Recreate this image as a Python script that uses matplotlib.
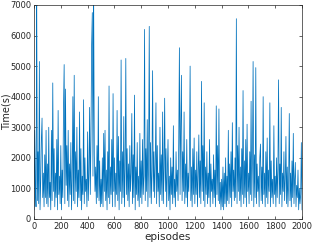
import numpy as np
import matplotlib.pyplot as plt

time_s = [
    300, 2900, 1100, 400, 7400, 600, 2200, 500, 5150, 300, 1200, 2600, 3300, 700, 1500, 400, 2100, 700, 2900, 500,
    1800, 400, 3000, 700, 1200, 300, 2900, 600, 4450, 900, 2300, 400, 1500, 700, 2600, 300, 3550, 800, 1400, 500,
    2400, 300, 1600, 700, 3600, 5050, 500, 4250, 1100, 2400, 600, 2900, 400, 1800, 800, 2500, 300, 1300, 4000, 600,
    4700, 500, 2200, 900, 3000, 400, 1600, 700, 3500, 600, 2300, 300, 1400, 800, 3900, 500, 2000, 900, 1300, 400,
    2850, 600, 1500, 3650, 800, 2600, 5700, 6750, 1400, 7300, 2100, 900, 1700, 500, 2400, 700, 4000, 600, 1900, 400,
    1300, 500, 2000, 400, 2800, 900, 2900, 600, 1600, 300, 2200, 700, 4350, 500, 1700, 800, 2600, 400, 4100, 900,
    2000, 400, 1500, 800, 3550, 600, 2700, 300, 1900, 900, 5200, 500, 2200, 700, 3350, 400, 1600, 5250, 800, 2300,
    600, 1800, 400, 2400, 900, 1500, 3450, 500, 2100, 700, 4050, 300, 1700, 800, 2500, 600, 1400, 400, 2800, 700,
    1900, 500, 2600, 800, 1400, 6200, 600, 2300, 900, 3250, 400, 1800, 6300, 700, 2500, 500, 1600, 4850, 900, 2200,
    700, 1800, 3800, 500, 2400, 900, 1500, 400, 3000, 800, 2100, 600, 3500, 500, 1700, 3950, 900, 2300, 400, 1500,
    2600, 600, 1400, 300, 2000, 800, 1700, 500, 3050, 700, 1300, 400, 2200, 900, 1600, 600, 2500, 5600, 800, 3100,
    4700, 600, 2200, 900, 3500, 500, 1800, 700, 2600, 400, 1500, 900, 2100, 5000, 600, 1700, 400, 2300, 800, 2650,
    500, 1600, 800, 2200, 400, 1400, 2750, 700, 1900, 500, 4500, 900, 2400, 600, 3800, 400, 1700, 800, 2200, 500,
    1500, 700, 2600, 400, 1800, 900, 1300, 500, 2100, 700, 1600, 400, 3700, 800, 2400, 600, 3600, 500, 1200, 300,
    1300, 400, 1700, 300, 1500, 500, 2000, 400, 1400, 600, 2900, 500, 1800, 700, 2200, 400, 3150, 900, 1600, 600,
    2000, 700, 6550, 500, 2400, 900, 3000, 600, 1700, 400, 2300, 800, 4200, 500, 1900, 700, 2600, 400, 3100, 900,
    1500, 500, 2200, 800, 3850, 600, 1900, 5150, 400, 2100, 700, 4950, 500, 1800, 900, 1400, 400, 2000, 2450, 600,
    1700, 500, 4000, 800, 1500, 400, 2200, 700, 2650, 500, 1600, 900, 3800, 400, 1900, 700, 1300, 500, 3050, 800,
    1400, 400, 2000, 700, 1600, 4550, 500, 1800, 800, 3650, 400, 1500, 900, 2200, 600, 1300, 2700, 500, 1700, 400,
    1200, 3450, 600, 1500, 400, 1900, 700, 2800, 500, 1300, 1850, 400, 1100, 700, 1600, 300, 1000, 500, 800, 2500,
    300,
]
episodes = np.arange(len(time_s)) * 5

x_ticks = [0, 200, 400, 600, 800, 1000, 1200, 1400, 1600, 1800, 2000]
y_ticks = [0, 1000, 2000, 3000, 4000, 5000, 6000, 7000]

fig = plt.figure(figsize=(3.12, 2.47), dpi=100)
ax = fig.add_axes([0.109, 0.1134, 0.859, 0.8666])

ax.plot(episodes, time_s, color='#0072BD', linewidth=0.55)

ax.set_xlim(0, 2000)
ax.set_ylim(0, 7000)
ax.set_xticks(x_ticks)
ax.set_yticks(y_ticks)
ax.tick_params(direction='in', length=2, width=0.5, labelsize=6,
               colors='#262626', top=True, right=True, pad=2)
for s in ax.spines.values():
    s.set_linewidth(0.5)
    s.set_color('#262626')

ax.set_xlabel('episodes', fontsize=7.5, color='#262626', labelpad=1)
ax.set_ylabel('Time(s)', fontsize=7, color='#262626')
ax.yaxis.set_label_coords(-0.085, 0.5)

fig.savefig('out.png', dpi=100)
